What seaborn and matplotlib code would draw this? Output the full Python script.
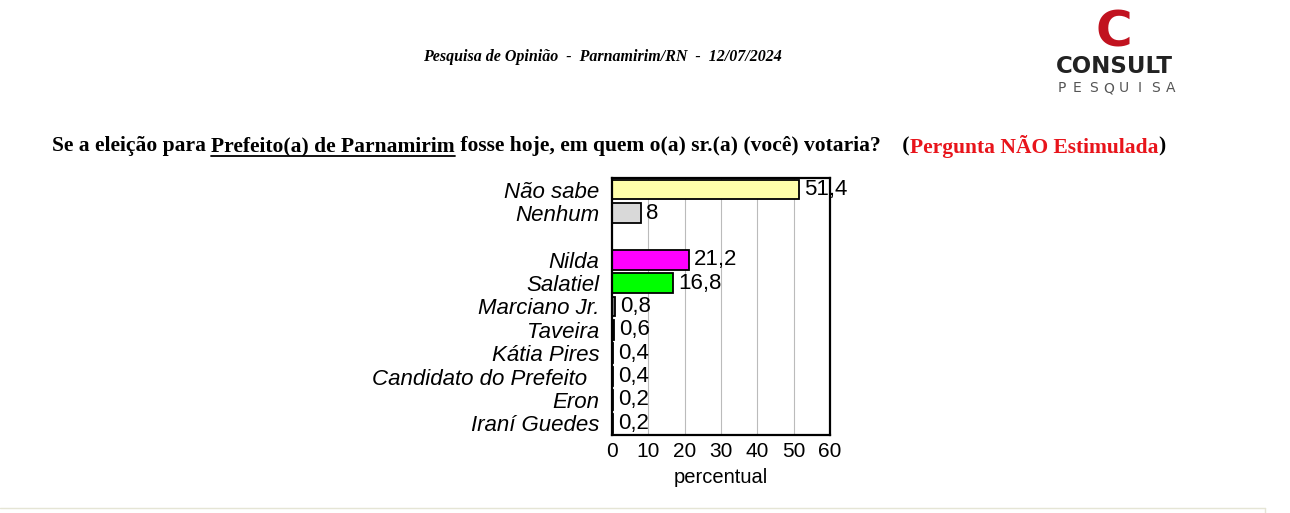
import matplotlib
matplotlib.use('Agg')
import matplotlib.pyplot as plt
import seaborn as sns
import pandas as pd
import numpy as np

# dados da pesquisa
nomes = ['Não sabe', 'Nenhum', ' ', 'Nilda', 'Salatiel', 'Marciano Jr.', 'Taveira',
         'Kátia Pires', 'Candidato do Prefeito  ', 'Eron', 'Iraní Guedes']
valores = [51.4, 8, np.nan, 21.2, 16.8, 0.8, 0.6, 0.4, 0.4, 0.2, 0.2]
cores = ['#FFFFAA', '#D9D9D9', '#FFFFFF', '#FF00FF', '#00FF00', '#808080', '#202020',
         '#404040', '#404040', '#404040', '#404040']
xticks = [0, 10, 20, 30, 40, 50, 60]

df = pd.DataFrame({'nome': nomes, 'valor': valores})

sns.set_style('white')
plt.rcParams['font.family'] = ['Liberation Sans', 'DejaVu Sans']
plt.rcParams['text.color'] = 'black'
plt.rcParams['axes.labelcolor'] = 'black'
plt.rcParams['xtick.color'] = 'black'
plt.rcParams['ytick.color'] = 'black'

fig = plt.figure(figsize=(12.9, 5.13), dpi=100)
ax = fig.add_axes([612 / 1290, 1 - 435 / 513, 218 / 1290, 257 / 513])

sns.barplot(data=df, x='valor', y='nome', hue='nome', order=nomes, hue_order=nomes,
            palette=cores, saturation=1, orient='h', edgecolor='black', linewidth=1.3,
            width=0.84, legend=False, ax=ax)

ax.set_xlim(0, 60)
ax.set_ylim(10.5, -0.5)
ax.set_xticks(xticks)
ax.set_xticklabels([str(t) for t in xticks], fontsize=15)
ax.tick_params(axis='x', length=0, pad=5)
ax.tick_params(axis='y', length=0, pad=9)
for lbl in ax.get_yticklabels():
    lbl.set_fontstyle('italic')
    lbl.set_fontsize(16)
ax.set_ylabel('')
ax.set_xlabel('percentual', fontsize=14.5, labelpad=5)
for g in xticks[1:-1]:
    ax.axvline(g, color='#BBBBBB', lw=0.8, zorder=0)
for s in ax.spines.values():
    s.set_color('black')
    s.set_linewidth(1.6)

# rotulos de valor
for i, v in enumerate(valores):
    if np.isnan(v):
        continue
    txt = ('%g' % v).replace('.', ',')
    ax.text(v + 1.4, i, txt, va='center', ha='left', fontsize=16)

# cabecalho
fig.text(602 / 1290, 1 - 57 / 513, 'Pesquisa de Opinião  -  Parnamirim/RN  -  12/07/2024',
         ha='center', va='center', fontsize=11.5, fontweight='bold', fontstyle='italic',
         family='Liberation Serif')

# logo
fig.text(1114 / 1290, 1 - 47 / 513, 'C', ha='center', va='baseline', fontsize=36,
         fontweight='heavy', color='#C1121F', family='DejaVu Sans')
fig.text(1114 / 1290, 1 - 73 / 513, 'CONSULT', ha='center', va='baseline', fontsize=16.5,
         fontweight='bold', color='#222222', family='DejaVu Sans')
letras = list('PESQUISA')
for k, letra in enumerate(letras):
    fig.text((1062 + k * 15.5) / 1290, 1 - 92 / 513, letra, ha='center', va='baseline',
             fontsize=10, color='#555555', family='DejaVu Sans')

# pergunta em pedacos
renderer = fig.canvas.get_renderer()
partes = [('Se a eleição para ', 'black', False),
          ('Prefeito(a) de Parnamirim', 'black', True),
          (' fosse hoje, em quem o(a) sr.(a) (você) votaria?    (', 'black', False),
          ('Pergunta NÃO Estimulada', '#E8141B', False),
          (')', 'black', False)]
x = 52
y = 1 - 146 / 513
for texto, cor, sub in partes:
    t = fig.text(x / 1290, y, texto, ha='left', va='center', fontsize=15.5,
                 fontweight='bold', color=cor, family='Liberation Serif')
    w = t.get_window_extent(renderer).width
    if sub:
        fig.add_artist(plt.Line2D([x / 1290, (x + w) / 1290], [y - 10 / 513, y - 10 / 513],
                                  color='black', lw=1.3))
    x += w

# linha do rodape
fig.add_artist(plt.Line2D([0, 1265 / 1290], [1 - 508 / 513, 1 - 508 / 513],
                          color='#E5E5D5', lw=1))
fig.add_artist(plt.Line2D([1265 / 1290, 1265 / 1290], [0, 1 - 508 / 513],
                          color='#E5E5D5', lw=1))

fig.savefig('out.png', dpi=100)
